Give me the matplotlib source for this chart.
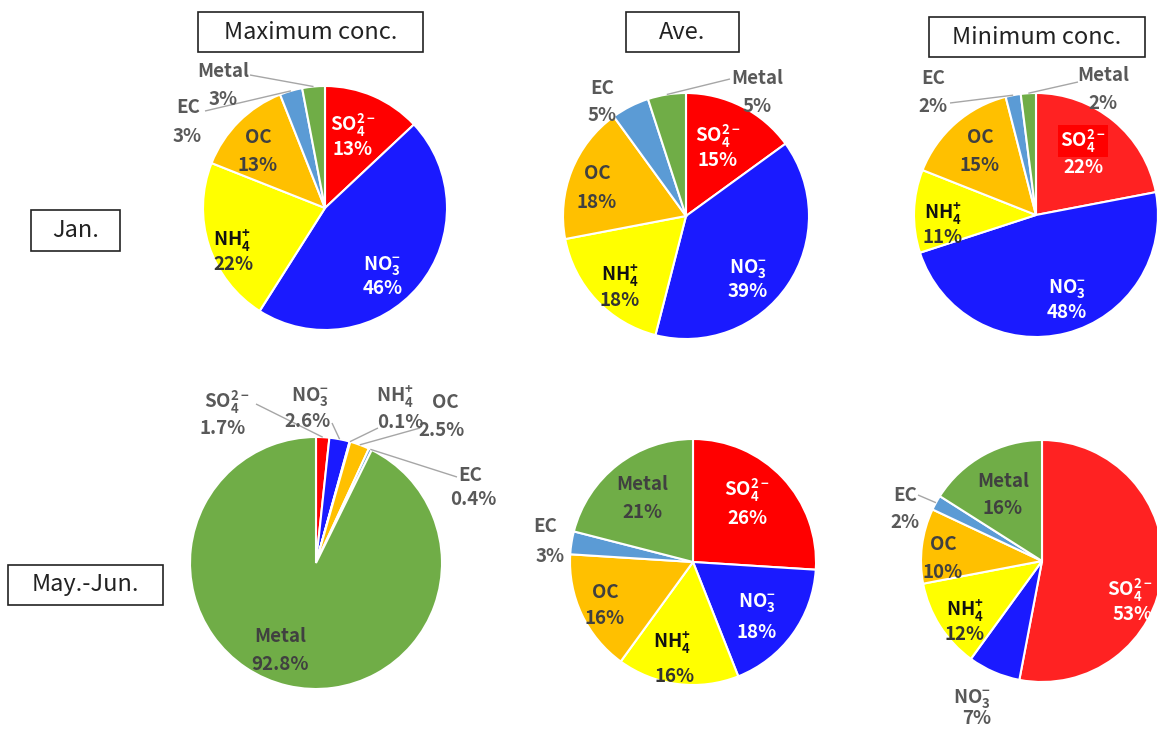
import numpy as np
import matplotlib
matplotlib.use('Agg')
import matplotlib.pyplot as plt
from matplotlib.patches import Rectangle

plt.rcParams['font.family'] = ['Noto Sans CJK KR', 'DejaVu Sans']
plt.rcParams['mathtext.fontset'] = 'custom'
plt.rcParams['mathtext.rm'] = 'Noto Sans CJK KR'
plt.rcParams['mathtext.bf'] = 'Noto Sans CJK KR:bold'
plt.rcParams['mathtext.default'] = 'bf'

W, H = 1157, 729

# components, clockwise from 12 o'clock
names = [r'SO$_4^{2-}$', r'NO$_3^{-}$', r'NH$_4^{+}$', 'OC', 'EC', 'Metal']

jan_max = [13, 46, 22, 13, 3, 3]
jan_ave = [15, 39, 18, 18, 5, 5]
jan_min = [22, 48, 11, 15, 2, 2]
may_max = [1.7, 2.6, 0.1, 2.5, 0.4, 92.8]
may_ave = [26, 18, 16, 16, 3, 21]
may_min = [53, 7, 12, 10, 2, 16]

col_titles = ['Maximum conc.', 'Ave.', 'Minimum conc.']
row_titles = ['Jan.', 'May.-Jun.']

colors = ['#FF0000', '#1A1AFF', '#FFFF00', '#FFC000', '#5B9BD5', '#70AD47']
colors_min = ['#FF2222', '#1A1AFF', '#FFFF00', '#FFC000', '#5B9BD5', '#70AD47']

# pie placement in pixels (x, y from top, radius)
pies = [
    (jan_max, (325, 208), 122, colors, '{:.0f}%'),
    (jan_ave, (686, 216), 123, colors, '{:.0f}%'),
    (jan_min, (1036, 215), 122, colors_min, '{:.0f}%'),
    (may_max, (316, 563), 126, colors, '{:.1f}%'),
    (may_ave, (693, 562), 123, colors, '{:.0f}%'),
    (may_min, (1042, 561), 121, colors_min, '{:.0f}%'),
]

# label positions: (name xy, percent xy) for each component
label_pos = [
    [((353, 125), (353, 149)), ((382, 266), (383, 288)), ((232, 241), (233, 264)),
     ((258, 137), (258, 165)), ((188, 107), (187, 136)), ((223, 71), (223, 99))],
    [((718, 136), (718, 160)), ((748, 269), (748, 291)), ((620, 276), (620, 300)),
     ((597, 173), (597, 202)), ((602, 88), (602, 115)), ((757, 78), (757, 106))],
    [((1083, 141), (1083, 167)), ((1067, 289), (1067, 312)), ((943, 214), (943, 237)),
     ((980, 137), (980, 165)), ((933, 78), (933, 106)), ((1103, 75), (1103, 103))],
    [((227, 402), (223, 428)), ((310, 397), (308, 421)), ((395, 397), (400, 422)),
     ((445, 402), (442, 430)), ((470, 475), (473, 499)), ((280, 637), (280, 665))],
    [((747, 490), (747, 518)), ((757, 603), (757, 633)), ((672, 643), (675, 676)),
     ((605, 592), (605, 618)), ((545, 527), (550, 556)), ((642, 484), (642, 513))],
    [((1130, 590), (1133, 614)), ((972, 699), (977, 719)), ((965, 611), (965, 634)),
     ((943, 545), (943, 573)), ((905, 495), (905, 523)), ((1003, 481), (1003, 508))],
]

# labels drawn outside the pie
outside = {0: [4, 5], 1: [4, 5], 2: [4, 5], 3: [0, 1, 2, 3, 4], 4: [4], 5: [1, 4]}

# leader line start points (label end), other end goes to the wedge rim
leaders = {
    (0, 4): (205, 111), (0, 5): (250, 75),
    (1, 5): (730, 79),
    (2, 4): (950, 103), (2, 5): (1078, 82),
    (3, 0): (256, 404), (3, 1): (332, 423), (3, 2): (378, 428),
    (3, 3): (420, 428), (3, 4): (457, 477),
    (5, 4): (918, 495),
}

fig = plt.figure(figsize=(W / 100, H / 100), dpi=100)
ax = fig.add_axes([0, 0, 1, 1])

for i, (vals, (cx, cy), r, cols, fmt) in enumerate(pies):
    # y axis is flipped below, so -90 / counterclock puts the start at 12 o'clock going clockwise
    ax.pie(vals, colors=cols, startangle=-90, counterclock=True, center=(cx, cy),
           radius=r, frame=True, wedgeprops=dict(edgecolor='white', linewidth=1.5))
    v = np.array(vals, dtype=float)
    mids = -90 + 360 * (np.cumsum(v) - v / 2) / v.sum()
    for k, name in enumerate(names):
        (nx, ny), (px, py) = label_pos[i][k]
        if k in outside[i]:
            c_name = c_pct = '#595959'
        elif k < 2:
            c_name = c_pct = 'white'
        elif k == 2:
            c_name, c_pct = '#111111', '#333333'
        else:
            c_name = c_pct = '#404040'
        bbox = None
        if i == 2 and k == 0:
            bbox = dict(boxstyle='square,pad=0.1', facecolor='#FF0000', edgecolor='none')
        ax.text(nx, ny, name, ha='center', va='center', fontsize=13.5,
                fontweight='bold', color=c_name, bbox=bbox)
        ax.text(px, py, fmt.format(vals[k]), ha='center', va='center', fontsize=13.5,
                fontweight='bold', color=c_pct)
        if (i, k) in leaders:
            sx, sy = leaders[(i, k)]
            a = np.radians(mids[k])
            ex, ey = cx + r * np.cos(a), cy + r * np.sin(a)
            ax.plot([sx, ex], [sy, ey], color='#A6A6A6', lw=1, solid_capstyle='butt')

# column and row headers
col_boxes = [(198, 12, 225, 40), (626, 12, 113, 40), (929, 17, 216, 40)]
row_boxes = [(31, 210, 89, 41), (8, 565, 155, 40)]
for (x, y, w, h), t in zip(col_boxes + row_boxes, col_titles + row_titles):
    ax.add_patch(Rectangle((x, y), w, h, facecolor='white', edgecolor='#222222', lw=1.2))
    ax.text(x + w / 2, y + h / 2, t, ha='center', va='center', fontsize=17, color='#222222')

ax.set_xlim(0, W)
ax.set_ylim(H, 0)
ax.set_aspect('equal')
ax.axis('off')

plt.savefig('out.png', dpi=100)
